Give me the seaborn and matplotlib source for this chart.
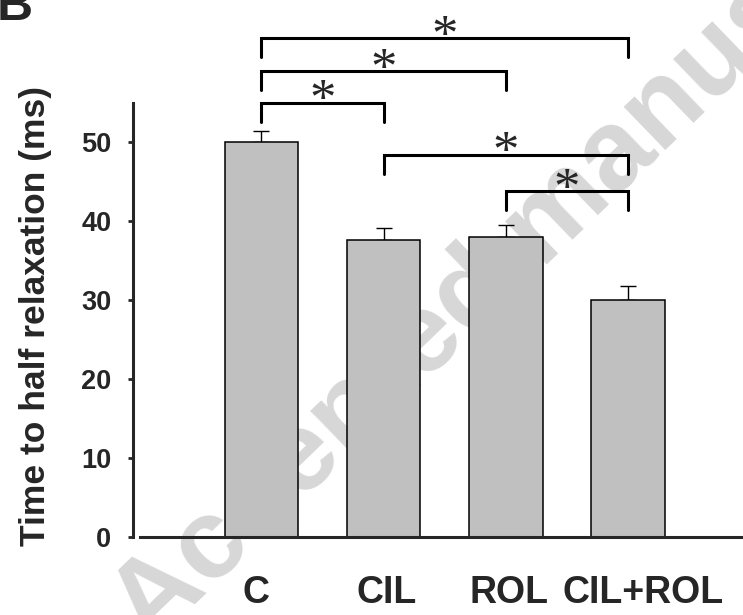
import numpy as np
import pandas as pd
import seaborn as sns
import matplotlib
matplotlib.use('Agg')
import matplotlib.pyplot as plt
from matplotlib.transforms import ScaledTranslation

# data
groups = ['C', 'CIL', 'ROL', 'CIL+ROL']
means = [50.0, 37.7, 38.0, 30.0]
sem = [1.4, 1.4, 1.5, 1.8]

# significance brackets: (left group, right group, bracket height)
pairs = [(0, 1), (0, 2), (0, 3), (1, 3), (2, 3)]
bracket_y = [55.0, 59.0, 63.2, 48.4, 43.8]
marks = ['*', '*', '*', '*', '*']

sns.set_style('white')
plt.rcParams['font.family'] = ['Liberation Sans', 'DejaVu Sans']
plt.rcParams['font.weight'] = 'bold'

df = pd.DataFrame({'group': groups, 'value': means})

fig = plt.figure(figsize=(7.43, 6.15), dpi=100)
ax = fig.add_axes([0.179, 0.1268, 0.821, 0.7057])

# faint watermark behind the bars
ax.text(150 / 743, 1 - 648 / 615, 'Accepted manuscript', transform=fig.transFigure,
        fontsize=82, fontweight='bold', color='#d7d7d7', rotation=44,
        rotation_mode='anchor', ha='left', va='baseline', zorder=0, clip_on=False)

sns.barplot(data=df, x='group', y='value', color='#c0c0c0', saturation=1,
            edgecolor='black', linewidth=1.1, width=0.6, errorbar=None, ax=ax, zorder=2)

x = np.arange(len(groups))
ax.errorbar(x, means, yerr=[np.zeros(len(sem)), sem], fmt='none', ecolor='black',
            elinewidth=1.0, capsize=6, capthick=1.0, zorder=1)

# brackets and stars
leg = 2.35
for (a, b), y, m in zip(pairs, bracket_y, marks):
    ax.plot([a, a, b, b], [y - leg, y, y, y - leg], color='black', lw=2.2,
            clip_on=False, solid_joinstyle='miter', zorder=3)
    ax.text((a + b) / 2, y - 1.55, m, ha='center', va='baseline', fontsize=38,
            family='Liberation Serif', fontweight='normal', clip_on=False)

ax.set_xlim(-1.05, 3.94)
ax.set_ylim(0, 55)
ax.set_yticks([0, 10, 20, 30, 40, 50])
ax.set_xlabel('')
ax.set_ylabel('Time to half relaxation (ms)', fontsize=25.5, fontweight='bold')
ax.yaxis.set_label_coords(-0.132, 0.509)

sns.despine(ax=ax, top=True, right=True)
ax.spines['left'].set_linewidth(2.2)
ax.spines['bottom'].set_linewidth(2.2)
ax.spines['left'].set_bounds(0, 55)
ax.spines['bottom'].set_bounds(-0.99, 3.94)

ax.tick_params(axis='y', direction='out', length=3.6, width=2.0, pad=12,
               labelsize=19.5, left=True)
ax.tick_params(axis='x', length=0, pad=27, labelsize=27)
for lab in ax.get_xticklabels() + ax.get_yticklabels():
    lab.set_fontweight('bold')

# the category labels sit a little off the bar centres in the original
label_shift = [-5, 3, 3, 15]
for lab, dx in zip(ax.get_xticklabels(), label_shift):
    lab.set_transform(lab.get_transform() + ScaledTranslation(dx / 100, 0, fig.dpi_scale_trans))

fig.text(-3.5 / 743, 1 - 20 / 615, 'B', fontsize=36, fontweight='bold',
         ha='left', va='baseline')

fig.savefig('out.png', dpi=100)
